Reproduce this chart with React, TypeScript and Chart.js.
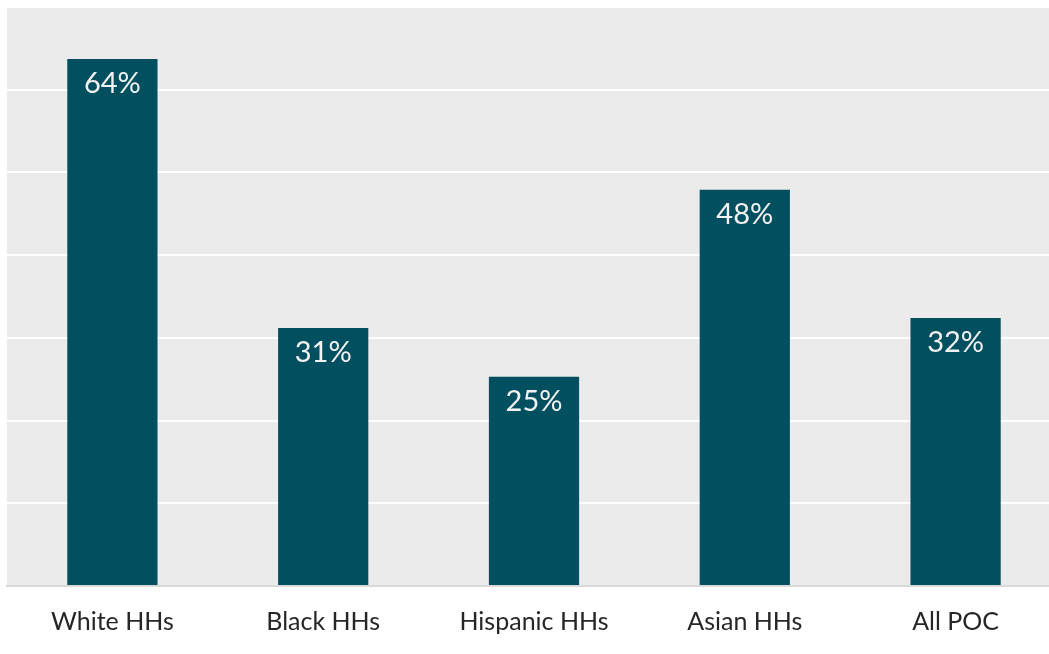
import React, { useEffect, useRef } from "react";
import { Chart, registerables } from "chart.js";

Chart.register(...registerables);

const categories = ["White HHs", "Black HHs", "Hispanic HHs", "Asian HHs", "All POC"];
const values = [63.7, 31.2, 25.3, 47.9, 32.4];
const valueLabels = ["64%", "31%", "25%", "48%", "32%"];
const yMax = 70;
const yStep = 10;

const FONT = "Lato, 'Open Sans', sans-serif";

const bgPlugin = {
  id: "plotBg",
  beforeDraw(chart: any) {
    const { ctx, chartArea } = chart;
    ctx.save();
    ctx.fillStyle = "#ebebeb";
    ctx.fillRect(chartArea.left, chartArea.top, chartArea.right - chartArea.left, chartArea.bottom - chartArea.top);
    ctx.restore();
  },
};

const labelPlugin = {
  id: "barLabels",
  afterDatasetsDraw(chart: any) {
    const { ctx } = chart;
    const meta = chart.getDatasetMeta(0);
    ctx.save();
    ctx.fillStyle = "#f2f2f2";
    ctx.font = `29px ${FONT}`;
    ctx.textAlign = "center";
    ctx.textBaseline = "middle";
    meta.data.forEach((bar: any, i: number) => {
      ctx.fillText(valueLabels[i], bar.x, bar.y + 25);
    });
    ctx.restore();
  },
};

export default function App() {
  const ref = useRef<HTMLCanvasElement | null>(null);
  useEffect(() => {
    if (!ref.current) return;
    const chart = new Chart(ref.current, {
      type: "bar",
      data: {
        labels: categories,
        datasets: [
          {
            data: values,
            backgroundColor: "#024f60",
            barPercentage: 1,
            categoryPercentage: 0.428,
          },
        ],
      },
      options: {
        responsive: false,
        animation: false,
        layout: { padding: { left: 7, top: 7, right: 0, bottom: 0 } },
        plugins: { legend: { display: false }, tooltip: { enabled: false } },
        scales: {
          x: {
            grid: { display: false, drawTicks: false },
            border: { display: true, color: "#d9d9d9", width: 2 },
            ticks: {
              color: "#262626",
              font: { family: FONT, size: 25 },
              padding: 21,
              maxRotation: 0,
            },
            afterFit(scale: any) {
              scale.height = 68;
            },
          },
          y: {
            min: 0,
            max: yMax,
            ticks: { display: false, stepSize: yStep },
            grid: { color: "#ffffff", lineWidth: 2, drawTicks: false },
            border: { display: false },
            afterFit(scale: any) {
              scale.width = 0;
            },
          },
        },
      },
      plugins: [bgPlugin, labelPlugin],
    });
    return () => chart.destroy();
  }, []);
  return (
    <div
      style={{
        position: "fixed",
        left: 0,
        top: 0,
        width: 1049,
        height: 654,
        overflow: "hidden",
        background: "#ffffff",
      }}
    >
      <canvas ref={ref} width={1061} height={654} style={{ width: 1061, height: 654, display: "block" }} />
    </div>
  );
}
